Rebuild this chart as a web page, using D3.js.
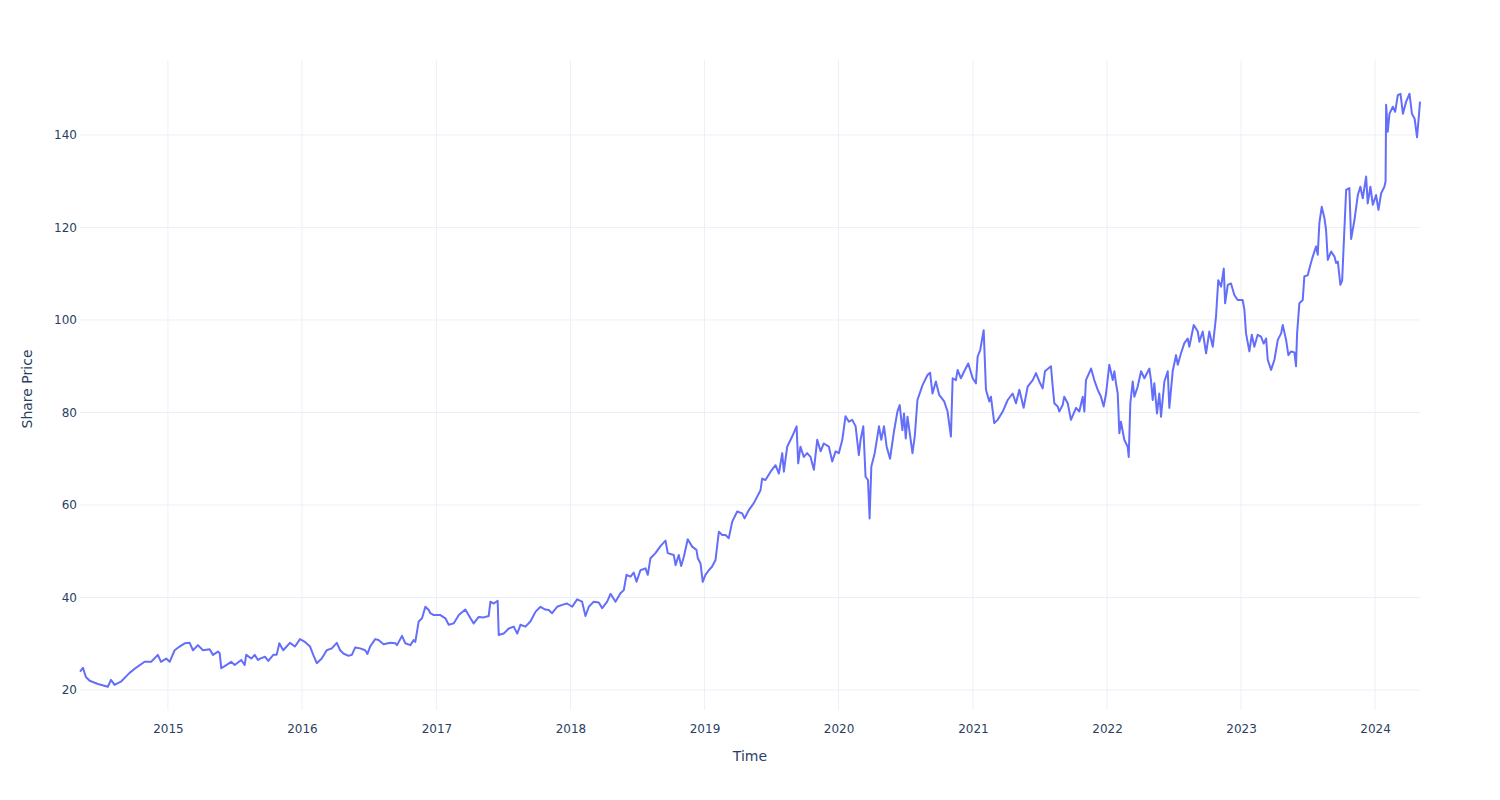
<!DOCTYPE html>
<html>
<head>
<meta charset="utf-8">
<script src="https://cdn.jsdelivr.net/npm/d3@7"></script>
<style>
  html, body { margin: 0; padding: 0; background: #fff; }
  svg { display: block; font-family: "DejaVu Sans", Verdana, sans-serif; }
</style>
</head>
<body>
<svg id="chart" width="1500" height="800"></svg>
<script>
// Decimal-year time stamps
const years = [
2014.344,2014.366,2014.388,2014.416,2014.478,2014.552,2014.575,2014.602,2014.649,2014.714,
2014.761,2014.826,2014.875,2014.925,2014.948,2014.987,2015.013,2015.050,2015.087,2015.125,
2015.162,2015.187,2015.224,2015.261,2015.311,2015.336,2015.373,2015.386,2015.398,2015.435,
2015.472,2015.498,2015.547,2015.572,2015.584,2015.622,2015.647,2015.672,2015.687,2015.724,
2015.749,2015.786,2015.811,2015.831,2015.860,2015.910,2015.948,2015.985,2016.022,2016.060,
2016.084,2016.110,2016.147,2016.184,2016.222,2016.259,2016.284,2016.308,2016.346,2016.371,
2016.396,2016.433,2016.470,2016.487,2016.507,2016.545,2016.569,2016.607,2016.657,2016.694,
2016.707,2016.744,2016.769,2016.806,2016.831,2016.843,2016.868,2016.893,2016.918,2016.943,
2016.955,2016.980,2017.030,2017.067,2017.092,2017.129,2017.167,2017.216,2017.254,2017.278,
2017.316,2017.353,2017.390,2017.403,2017.428,2017.457,2017.465,2017.502,2017.540,2017.577,
2017.603,2017.627,2017.664,2017.701,2017.739,2017.776,2017.813,2017.838,2017.863,2017.901,
2017.938,2017.975,2018.013,2018.050,2018.087,2018.112,2018.137,2018.174,2018.211,2018.237,
2018.274,2018.299,2018.336,2018.373,2018.398,2018.418,2018.448,2018.472,2018.493,2018.522,
2018.560,2018.577,2018.597,2018.634,2018.672,2018.709,2018.726,2018.771,2018.784,2018.808,
2018.826,2018.846,2018.875,2018.908,2018.940,2018.950,2018.970,2018.987,2019.007,2019.032,
2019.057,2019.082,2019.107,2019.132,2019.157,2019.181,2019.207,2019.244,2019.281,2019.299,
2019.331,2019.368,2019.393,2019.418,2019.430,2019.455,2019.493,2019.530,2019.555,2019.580,
2019.592,2019.617,2019.654,2019.687,2019.699,2019.716,2019.741,2019.766,2019.791,2019.816,
2019.841,2019.866,2019.890,2019.928,2019.953,2019.978,2020.002,2020.028,2020.052,2020.077,
2020.102,2020.127,2020.151,2020.164,2020.184,2020.201,2020.219,2020.231,2020.244,2020.269,
2020.301,2020.318,2020.338,2020.358,2020.383,2020.413,2020.438,2020.455,2020.475,2020.487,
2020.500,2020.513,2020.550,2020.567,2020.587,2020.625,2020.662,2020.681,2020.699,2020.724,
2020.749,2020.786,2020.811,2020.836,2020.849,2020.873,2020.886,2020.910,2020.935,2020.965,
2020.998,2021.022,2021.035,2021.054,2021.080,2021.097,2021.122,2021.134,2021.159,2021.184,
2021.222,2021.259,2021.296,2021.321,2021.346,2021.378,2021.408,2021.446,2021.470,2021.495,
2021.520,2021.537,2021.582,2021.595,2021.607,2021.632,2021.644,2021.669,2021.681,2021.707,
2021.731,2021.769,2021.793,2021.819,2021.831,2021.843,2021.881,2021.905,2021.931,2021.955,
2021.975,2021.993,2022.017,2022.043,2022.055,2022.067,2022.080,2022.092,2022.104,2022.129,
2022.154,2022.162,2022.174,2022.192,2022.204,2022.229,2022.254,2022.279,2022.316,2022.328,
2022.341,2022.353,2022.373,2022.390,2022.403,2022.428,2022.453,2022.465,2022.490,2022.515,
2022.528,2022.552,2022.577,2022.602,2022.614,2022.647,2022.677,2022.689,2022.714,2022.739,
2022.763,2022.789,2022.813,2022.830,2022.851,2022.871,2022.881,2022.901,2022.925,2022.950,
2022.975,2023.012,2023.025,2023.037,2023.062,2023.080,2023.099,2023.124,2023.149,2023.169,
2023.187,2023.199,2023.224,2023.249,2023.274,2023.299,2023.311,2023.336,2023.353,2023.373,
2023.398,2023.410,2023.418,2023.435,2023.460,2023.472,2023.498,2023.517,2023.535,2023.560,
2023.572,2023.584,2023.602,2023.622,2023.634,2023.647,2023.672,2023.697,2023.709,2023.722,
2023.741,2023.754,2023.784,2023.808,2023.821,2023.846,2023.871,2023.890,2023.908,2023.933,
2023.945,2023.965,2023.983,2024.007,2024.025,2024.045,2024.069,2024.078,2024.082,2024.094,
2024.107,2024.132,2024.149,2024.169,2024.189,2024.207,2024.231,2024.256,2024.274,2024.294,
2024.312,2024.325,2024.334
];

// Share price
const prices = [
24.0,24.8,22.8,22.0,21.3,20.7,22.2,21.1,21.8,23.7,
24.8,26.1,26.1,27.6,26.1,26.8,26.1,28.6,29.4,30.1,
30.2,28.6,29.7,28.6,28.8,27.6,28.3,28.0,24.7,25.4,
26.1,25.4,26.5,25.4,27.6,26.8,27.6,26.5,26.8,27.2,
26.3,27.6,27.6,30.1,28.6,30.2,29.4,31.0,30.4,29.4,
27.6,25.8,26.8,28.6,29.0,30.2,28.6,27.9,27.4,27.6,
29.2,29.0,28.6,27.8,29.4,31.0,30.8,29.9,30.2,30.1,
29.7,31.7,30.1,29.7,30.8,30.4,34.8,35.5,38.0,37.3,
36.6,36.2,36.2,35.5,34.1,34.4,36.2,37.4,35.5,34.4,
35.8,35.7,36.0,39.1,38.7,39.3,31.9,32.2,33.3,33.7,
32.2,34.1,33.7,34.8,36.9,38.0,37.4,37.3,36.6,38.0,
38.4,38.7,38.0,39.6,39.1,36.0,38.0,39.1,38.9,37.7,
39.1,40.8,39.1,40.9,41.6,44.9,44.5,45.4,43.4,45.9,
46.3,44.9,48.5,49.6,51.1,52.3,49.6,49.2,47.0,49.2,
46.8,48.8,52.6,51.0,50.3,48.5,47.4,43.4,44.9,45.9,
46.7,48.1,54.2,53.5,53.5,52.8,56.4,58.6,58.2,57.1,
58.9,60.4,61.8,63.2,65.7,65.4,67.2,68.6,66.8,71.2,
67.2,72.6,74.8,77.0,69.0,72.6,70.4,71.2,70.4,67.6,
74.1,71.6,73.3,72.6,69.4,71.6,71.2,74.1,79.2,78.0,
78.4,77.0,70.8,74.1,77.0,66.1,65.4,57.1,68.3,71.2,
77.0,74.1,77.0,72.6,70.0,76.0,80.2,81.6,76.2,79.8,
74.4,79.1,71.2,74.8,82.7,85.9,88.1,88.6,84.1,86.7,
83.8,82.4,80.2,74.8,87.4,87.0,89.2,87.4,88.9,90.6,
87.4,86.3,92.1,93.5,97.8,84.9,82.4,83.4,77.7,78.4,
80.2,82.7,84.1,82.0,84.9,81.0,85.6,87.0,88.5,86.7,
85.2,88.9,90.0,85.6,82.0,81.3,80.2,81.6,83.4,82.0,
78.4,81.0,80.2,83.4,80.2,87.0,89.5,87.0,84.9,83.4,
81.3,84.1,90.3,87.0,88.9,86.3,84.1,75.5,78.0,74.1,
72.6,70.4,82.0,86.7,83.4,85.6,88.9,87.4,89.5,87.0,
82.7,86.3,79.8,84.1,79.1,86.7,88.9,81.0,88.9,92.4,
90.3,92.8,95.0,96.0,94.2,98.9,97.5,95.3,97.5,92.8,
97.5,94.2,100.7,108.6,107.2,111.1,103.6,107.6,107.9,105.4,
104.3,104.3,102.2,97.1,93.2,96.8,94.2,96.8,96.4,94.9,
96.0,91.4,89.2,91.4,95.7,97.1,98.9,95.7,92.4,93.2,
93.0,90.0,97.1,103.6,104.3,109.4,109.7,111.9,113.7,115.9,
114.1,120.9,124.5,122.0,119.5,113.0,114.8,113.7,112.3,112.6,
107.6,108.5,128.1,128.5,117.5,121.6,127.0,128.8,126.3,131.0,
125.2,128.8,124.9,127.0,123.8,127.4,128.8,130.0,146.5,140.7,
144.6,146.1,145.0,148.6,148.9,144.6,147.2,148.9,144.6,143.5,
139.5,143.9,147.2
];

const yTicks = [20, 40, 60, 80, 100, 120, 140];
const xTickYears = [2015, 2016, 2017, 2018, 2019, 2020, 2021, 2022, 2023, 2024];
const xTitle = "Time";
const yTitle = "Share Price";

function yearToDate(y) {
  const yr = Math.floor(y);
  const start = new Date(yr, 0, 1).getTime();
  const end = new Date(yr + 1, 0, 1).getTime();
  return new Date(start + (y - yr) * (end - start));
}

const data = years.map((y, i) => ({ date: yearToDate(y), value: prices[i] }));

const W = 1500, H = 800;
const m = { left: 80, right: 80, top: 60, bottom: 90 };
const svg = d3.select("#chart");

const x = d3.scaleTime()
  .domain(d3.extent(data, d => d.date))
  .range([m.left, W - m.right]);
const y = d3.scaleLinear()
  .domain([15.68, 156.2])
  .range([H - m.bottom, m.top]);

// Grid lines
const grid = svg.append("g");
grid.selectAll("line.h").data(yTicks).enter().append("line")
  .attr("x1", m.left).attr("x2", W - m.right)
  .attr("y1", d => y(d)).attr("y2", d => y(d))
  .attr("stroke", "#EBF0F8").attr("stroke-width", 1);
grid.selectAll("line.v").data(xTickYears).enter().append("line")
  .attr("x1", d => x(new Date(d, 0, 1))).attr("x2", d => x(new Date(d, 0, 1)))
  .attr("y1", m.top).attr("y2", H - m.bottom)
  .attr("stroke", "#EBF0F8").attr("stroke-width", 1);

// Axes
const xAxis = d3.axisBottom(x)
  .tickValues(xTickYears.map(d => new Date(d, 0, 1)))
  .tickFormat(d3.timeFormat("%Y"))
  .tickSize(0).tickPadding(14);
const gx = svg.append("g").attr("transform", `translate(0,${H - m.bottom})`).call(xAxis);
gx.select(".domain").remove();
gx.selectAll("text").attr("fill", "#2a3f5f").style("font-size", "12px")
  .style("font-family", '"DejaVu Sans", Verdana, sans-serif');

const yAxis = d3.axisLeft(y).tickValues(yTicks).tickSize(0).tickPadding(3);
const gy = svg.append("g").attr("transform", `translate(${m.left},0)`).call(yAxis);
gy.select(".domain").remove();
gy.selectAll("text").attr("fill", "#2a3f5f").style("font-size", "12px")
  .style("font-family", '"DejaVu Sans", Verdana, sans-serif');

// Line
const line = d3.line().x(d => x(d.date)).y(d => y(d.value));
svg.append("path").datum(data)
  .attr("d", line)
  .attr("fill", "none")
  .attr("stroke", "#636efa")
  .attr("stroke-width", 2)
  .attr("stroke-linejoin", "round");

// Axis titles
svg.append("text")
  .attr("x", (m.left + W - m.right) / 2).attr("y", 756)
  .attr("text-anchor", "middle").attr("dominant-baseline", "central")
  .attr("fill", "#2a3f5f").style("font-size", "14px")
  .text(xTitle);
svg.append("text")
  .attr("transform", `translate(27,389) rotate(-90)`)
  .attr("text-anchor", "middle").attr("dominant-baseline", "central")
  .attr("fill", "#2a3f5f").style("font-size", "14px")
  .text(yTitle);
</script>
</body>
</html>
